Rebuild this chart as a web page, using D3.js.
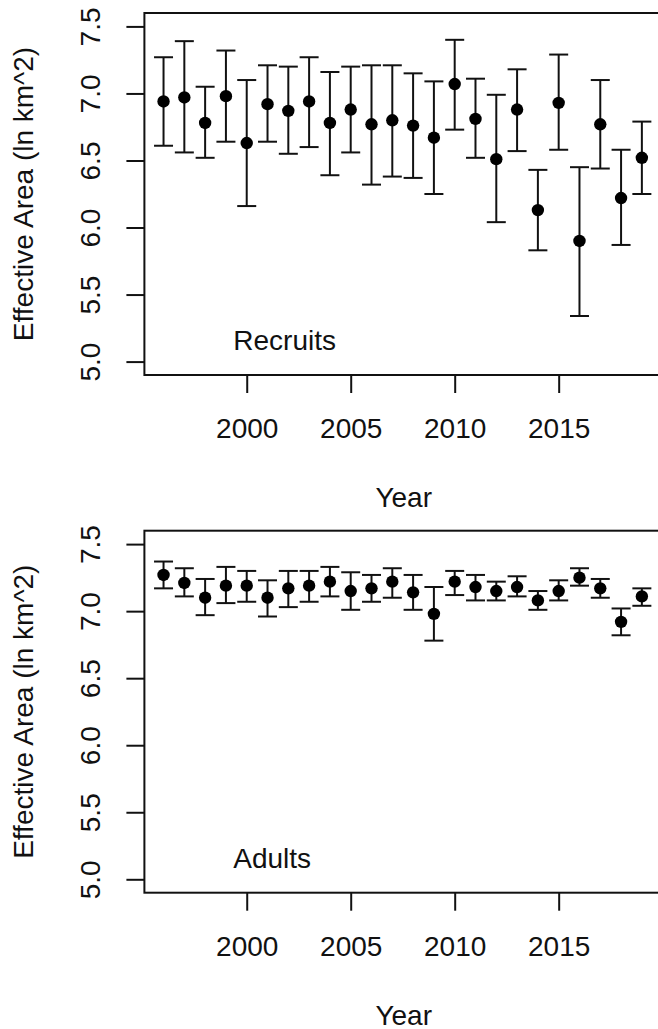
<!DOCTYPE html>
<html>
<head>
<meta charset="utf-8">
<script src="https://cdn.jsdelivr.net/npm/d3@7"></script>
<style>
  html, body { margin: 0; padding: 0; background: #fff; }
  svg { display: block; }
  text { font-family: "Liberation Sans", Arial, Helvetica, sans-serif; fill: #111; }
</style>
</head>
<body>
<svg id="chart" width="658" height="1029"></svg>
<script>
const years = d3.range(1996, 2020);
const xTicks = [2000, 2005, 2010, 2015];
const yTicks = [5.0, 5.5, 6.0, 6.5, 7.0, 7.5];

const recruitMean  = [6.94,6.97,6.78,6.98,6.63,6.92,6.87,6.94,6.78,6.88,6.77,6.80,6.76,6.67,7.07,6.81,6.51,6.88,6.13,6.93,5.90,6.77,6.22,6.52];
const recruitUpper = [7.27,7.39,7.05,7.32,7.10,7.21,7.20,7.27,7.16,7.20,7.21,7.21,7.15,7.09,7.40,7.11,6.99,7.18,6.43,7.29,6.45,7.10,6.58,6.79];
const recruitLower = [6.61,6.56,6.52,6.64,6.16,6.64,6.55,6.60,6.39,6.56,6.32,6.38,6.37,6.25,6.73,6.52,6.04,6.57,5.83,6.58,5.34,6.44,5.87,6.25];

const adultMean  = [7.27,7.21,7.10,7.19,7.19,7.10,7.17,7.19,7.22,7.15,7.17,7.22,7.14,6.98,7.22,7.18,7.15,7.18,7.08,7.15,7.25,7.17,6.92,7.11];
const adultUpper = [7.37,7.32,7.24,7.33,7.30,7.23,7.30,7.30,7.33,7.29,7.27,7.32,7.27,7.18,7.30,7.27,7.22,7.26,7.15,7.23,7.32,7.24,7.02,7.17];
const adultLower = [7.17,7.11,6.97,7.06,7.07,6.96,7.03,7.07,7.11,7.01,7.07,7.10,7.01,6.78,7.12,7.08,7.08,7.11,7.01,7.08,7.19,7.10,6.82,7.04];

const panels = [
  { label: "Recruits", mean: recruitMean, upper: recruitUpper, lower: recruitLower, top: 13 },
  { label: "Adults",   mean: adultMean,   upper: adultUpper,   lower: adultLower,   top: 530.7 }
];

const svg = d3.select("#chart");
svg.append("rect").attr("width", 658).attr("height", 1029).attr("fill", "#fff");

const plotLeft = 144.4, plotRight = 661, plotH = 362;
const FS = 28;
const x = d3.scaleLinear().domain([1995.08, 2019.92]).range([plotLeft, plotRight]);

panels.forEach(p => {
  const bottom = p.top + plotH;
  const y = d3.scaleLinear().domain([4.9, 7.6]).range([bottom, p.top]);
  const g = svg.append("g");

  // box
  g.append("rect")
    .attr("x", plotLeft).attr("y", p.top)
    .attr("width", plotRight - plotLeft).attr("height", plotH)
    .attr("fill", "none").attr("stroke", "#111").attr("stroke-width", 2);

  // y axis
  const ya = g.append("g").attr("transform", `translate(${plotLeft},0)`)
    .call(d3.axisLeft(y).tickValues(yTicks).tickFormat(d3.format(".1f")).tickSize(18));
  ya.select(".domain").remove();
  ya.selectAll(".tick line").attr("stroke", "#111").attr("stroke-width", 2);
  ya.selectAll(".tick text")
    .attr("transform", "rotate(-90)")
    .attr("x", 0).attr("y", -44).attr("dy", 0)
    .attr("text-anchor", "middle")
    .style("font-size", FS + "px")
    .style("font-family", "'Liberation Sans', Arial, sans-serif")
    .attr("fill", "#111");

  // x axis
  const xa = g.append("g").attr("transform", `translate(0,${bottom})`)
    .call(d3.axisBottom(x).tickValues(xTicks).tickFormat(d3.format("d")).tickSize(18));
  xa.select(".domain").remove();
  xa.selectAll(".tick line").attr("stroke", "#111").attr("stroke-width", 2);
  xa.selectAll(".tick text")
    .attr("y", 63).attr("dy", 0)
    .style("font-size", FS + "px")
    .style("font-family", "'Liberation Sans', Arial, sans-serif")
    .attr("fill", "#111");

  // axis titles
  g.append("text")
    .attr("transform", `translate(33.3,${p.top + plotH / 2}) rotate(-90)`)
    .attr("text-anchor", "middle")
    .style("font-size", FS + "px")
    .text("Effective Area (ln km^2)");
  g.append("text")
    .attr("x", (plotLeft + plotRight) / 2 + 1)
    .attr("y", bottom + 132)
    .attr("text-anchor", "middle")
    .style("font-size", FS + "px")
    .text("Year");

  // panel label
  g.append("text")
    .attr("x", 233.3).attr("y", bottom - 25)
    .style("font-size", FS + "px")
    .text(p.label);

  // error bars
  const rows = years.map((yr, i) => ({ yr, m: p.mean[i], lo: p.lower[i], hi: p.upper[i] }));
  const eb = g.append("g").attr("stroke", "#111").attr("stroke-width", 2);
  eb.selectAll("line.v").data(rows).join("line").attr("class", "v")
    .attr("x1", d => x(d.yr)).attr("x2", d => x(d.yr))
    .attr("y1", d => y(d.lo)).attr("y2", d => y(d.hi));
  eb.selectAll("line.hi").data(rows).join("line").attr("class", "hi")
    .attr("x1", d => x(d.yr) - 9.5).attr("x2", d => x(d.yr) + 9.5)
    .attr("y1", d => y(d.hi)).attr("y2", d => y(d.hi));
  eb.selectAll("line.lo").data(rows).join("line").attr("class", "lo")
    .attr("x1", d => x(d.yr) - 9.5).attr("x2", d => x(d.yr) + 9.5)
    .attr("y1", d => y(d.lo)).attr("y2", d => y(d.lo));

  g.append("g").selectAll("circle").data(rows).join("circle")
    .attr("cx", d => x(d.yr)).attr("cy", d => y(d.m))
    .attr("r", 6.2).attr("fill", "#000");
});
</script>
</body>
</html>
